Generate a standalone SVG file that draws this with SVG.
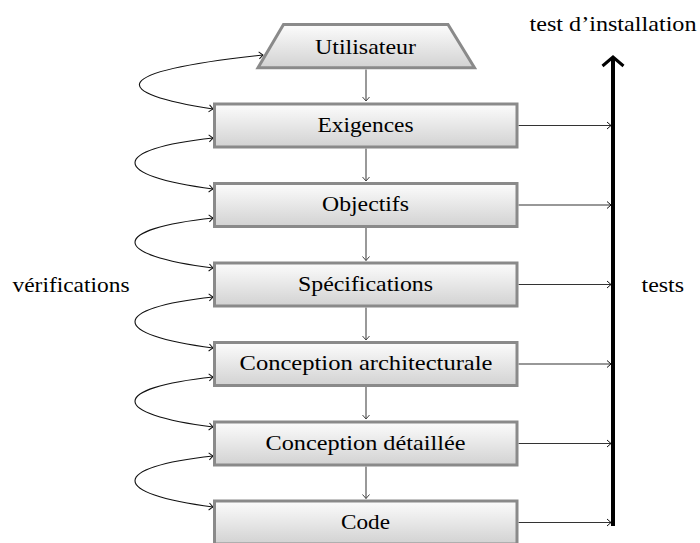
<svg xmlns="http://www.w3.org/2000/svg" width="700" height="543" viewBox="0 0 700 543">
<style>
.box{fill:url(#g);stroke:#8a8a8a;stroke-width:3}
.t{font-family:"Liberation Serif","Times New Roman",serif;font-size:21.5px;fill:#000;text-anchor:middle}
.l{font-family:"Liberation Serif","Times New Roman",serif;font-size:21.5px;fill:#000}
.v{stroke:#555;stroke-width:1.2;fill:none;marker-end:url(#ag)}
.h{stroke:#333;stroke-width:1.1;fill:none;marker-end:url(#ak)}
.c{stroke:#111;stroke-width:1.1;fill:none;marker-start:url(#ak);marker-end:url(#ak)}
</style>
<defs>
<linearGradient id="g" x1="0" y1="0" x2="0" y2="1">
<stop offset="0" stop-color="#fcfcfc"/>
<stop offset="1" stop-color="#d2d2d2"/>
</linearGradient>
<marker id="ak" markerUnits="userSpaceOnUse" markerWidth="12" markerHeight="12" viewBox="-6 -6 12 12" refX="0" refY="0" orient="auto-start-reverse">
<path d="M-4,-3.5 L0,0 L-4,3.5" fill="none" stroke="#111" stroke-width="1"/>
</marker>
<marker id="ag" markerUnits="userSpaceOnUse" markerWidth="12" markerHeight="12" viewBox="-6 -6 12 12" refX="0" refY="0" orient="auto">
<path d="M-4,-3.5 L0,0 L-4,3.5" fill="none" stroke="#444" stroke-width="1"/>
</marker>
</defs>

<g id="connectors">
<path class="v" d="M366,69.5 V101"/>
<path class="v" d="M366,148.5 V181"/>
<path class="v" d="M366,228 V260.5"/>
<path class="v" d="M366,307.5 V340"/>
<path class="v" d="M366,387 V419"/>
<path class="v" d="M366,466.5 V498.5"/>

<path class="h" d="M518.5,125.5 H611"/>
<path class="h" d="M518.5,205 H611"/>
<path class="h" d="M518.5,284.5 H611"/>
<path class="h" d="M518.5,364 H611"/>
<path class="h" d="M518.5,443.5 H611"/>
<path class="h" d="M518.5,522.5 H611"/>

<path class="c" d="M263,55 C105,72 110,93 213,109"/>
<path class="c" d="M213,138 C109,149 109,176 213,189"/>
<path class="c" d="M213,218 C109,229 109,255 213,268"/>
<path class="c" d="M213,297 C109,308 109,335 213,348"/>
<path class="c" d="M213,377 C109,388 109,414 213,427"/>
<path class="c" d="M213,456 C109,467 109,494 213,507"/>

<path d="M613,526 V59" stroke="#000" stroke-width="4" fill="none"/>
<path d="M602.5,66 L613,57 L623.5,66" stroke="#000" stroke-width="3" fill="none"/>
</g>

<g id="n-utilisateur">
<polygon class="box" points="283.5,24.5 448,24.5 474.5,67.8 258,67.8"/>
<text class="t" x="365.5" y="54" textLength="101" lengthAdjust="spacingAndGlyphs">Utilisateur</text>
</g>
<g id="n-exigences">
<rect class="box" x="214.5" y="104" width="302.5" height="43"/>
<text class="t" x="365.5" y="131.5" textLength="96" lengthAdjust="spacingAndGlyphs">Exigences</text>
</g>
<g id="n-objectifs">
<rect class="box" x="214.5" y="183.5" width="302.5" height="43"/>
<text class="t" x="365.5" y="211" textLength="87" lengthAdjust="spacingAndGlyphs">Objectifs</text>
</g>
<g id="n-specifications">
<rect class="box" x="214.5" y="263" width="302.5" height="43"/>
<text class="t" x="365.5" y="290.5" textLength="135" lengthAdjust="spacingAndGlyphs">Spécifications</text>
</g>
<g id="n-conception-architecturale">
<rect class="box" x="214.5" y="342.5" width="302.5" height="43"/>
<text class="t" x="366" y="370" textLength="253" lengthAdjust="spacingAndGlyphs">Conception architecturale</text>
</g>
<g id="n-conception-detaillee">
<rect class="box" x="214.5" y="422" width="302.5" height="43"/>
<text class="t" x="365.5" y="449.5" textLength="200" lengthAdjust="spacingAndGlyphs">Conception détaillée</text>
</g>
<g id="n-code">
<rect class="box" x="214.5" y="501" width="302.5" height="43"/>
<text class="t" x="365.5" y="528.5" textLength="49" lengthAdjust="spacingAndGlyphs">Code</text>
</g>

<g id="labels">
<text class="l" x="12.5" y="292" textLength="117" lengthAdjust="spacingAndGlyphs">vérifications</text>
<text class="l" x="641.5" y="291.5" textLength="42.5" lengthAdjust="spacingAndGlyphs">tests</text>
<text class="l" x="529.5" y="31" textLength="167" lengthAdjust="spacingAndGlyphs">test d’installation</text>
</g>
</svg>
